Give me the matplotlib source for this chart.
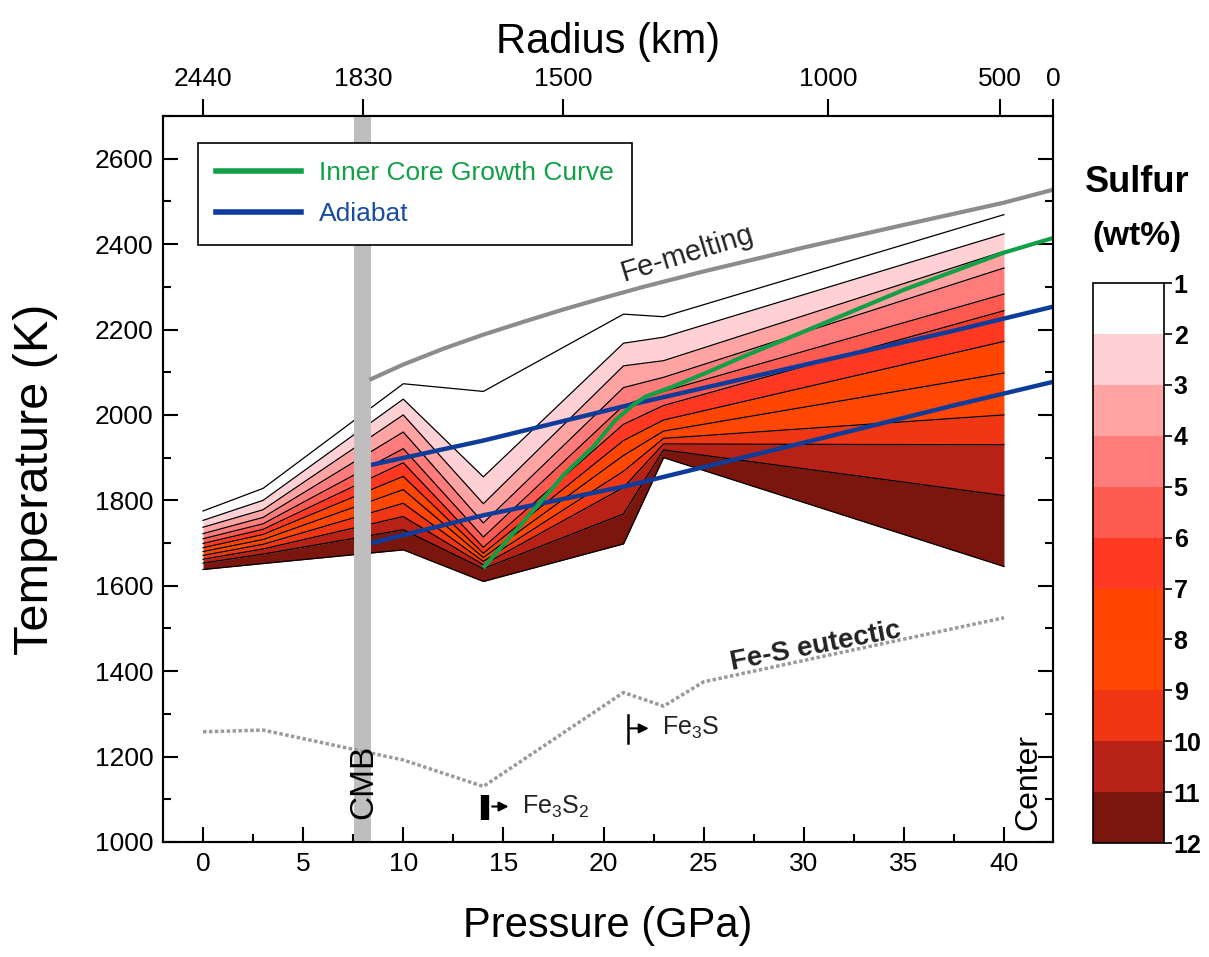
import numpy as np
import matplotlib
matplotlib.use('Agg')
import matplotlib.pyplot as plt
from matplotlib.colors import ListedColormap, BoundaryNorm
from matplotlib.cm import ScalarMappable
from matplotlib.lines import Line2D
from matplotlib.ticker import MultipleLocator

plt.rcParams['font.family'] = ['Liberation Sans', 'DejaVu Sans']
plt.rcParams['mathtext.fontset'] = 'custom'
plt.rcParams['mathtext.rm'] = 'Liberation Sans'

# pressures (GPa) where the liquidus curves have their vertices
pressure_nodes = [0, 3, 10, 14, 21, 23, 40]

# sulfur content (wt%) of each curve, top curve = 1 wt%
sulfur_levels = [1, 2, 3, 4, 5, 6, 7, 8, 9, 10, 11, 12]

# liquidus temperature (K) for each sulfur level at the pressure nodes
liquidus_T = [
    [1775, 1828, 2073, 2055, 2236, 2230, 2469],
    [1753, 1800, 2037, 1855, 2168, 2182, 2424],
    [1737, 1778, 2000, 1792, 2115, 2127, 2383],
    [1722, 1760, 1960, 1747, 2064, 2088, 2344],
    [1710, 1745, 1921, 1714, 2022, 2055, 2283],
    [1699, 1732, 1888, 1690, 1978, 2022, 2244],
    [1689, 1720, 1856, 1676, 1940, 1988, 2172],
    [1680, 1708, 1825, 1666, 1905, 1962, 2098],
    [1671, 1697, 1793, 1657, 1868, 1945, 2000],
    [1662, 1686, 1762, 1649, 1830, 1932, 1930],
    [1653, 1674, 1731, 1640, 1768, 1918, 1811],
    [1638, 1652, 1684, 1610, 1698, 1900, 1645],
]

# colour of the band between sulfur level k and k+1
band_colors = ['#FFFFFF', '#FFD1D4', '#FFA3A3', '#FF7C7C', '#FF5A50', '#FF3822',
               '#FF4500', '#FF4602', '#F03612', '#B82216', '#7A160D']

# pure Fe melting curve
fe_melt_P = [8.4, 10, 12, 14, 16, 18, 20, 22, 25, 30, 35, 40, 42.5]
fe_melt_T = [2084, 2118, 2155, 2188, 2218, 2247, 2274, 2300, 2336, 2392, 2445, 2497, 2528]

# Fe-S eutectic
eut_P = [0, 3, 10, 14, 21, 23, 25, 40]
eut_T = [1258, 1262, 1192, 1130, 1350, 1318, 1375, 1525]

# inner core growth curve
icg_P = [14.05, 15.5, 16.8, 18.1, 19.5, 20.6, 21.5, 22.1, 23.5, 25.1, 26.8, 30, 35, 40, 42.5]
icg_T = [1645, 1723, 1793, 1864, 1926, 1988, 2024, 2043, 2067, 2098, 2133, 2195, 2293, 2380, 2415]

# adiabats
ad_P = [8.4, 14, 21, 30, 37.3, 42.5]
ad_hi_T = [1883, 1940, 2020, 2117, 2195, 2254]
ad_lo_T = [1700, 1765, 1832, 1935, 2020, 2078]

# radius axis (top)
radius_km = [2440, 1830, 1500, 1000, 500, 0]
radius_at_P = [0, 8, 18, 31.2, 39.8, 42.45]

green = '#11A047'
blue = '#0E3C9A'

fig = plt.figure(figsize=(12.09, 9.57), dpi=100)
ax = fig.add_axes([0.1348, 0.1202, 0.7362, 0.7586])

# sulfur bands
for k in range(len(band_colors)):
    ax.fill_between(pressure_nodes, liquidus_T[k + 1], liquidus_T[k],
                    color=band_colors[k], lw=0, zorder=1)
for row in liquidus_T:
    ax.plot(pressure_nodes, row, color='k', lw=0.9, zorder=2)

# core-mantle boundary
ax.axvspan(7.55, 8.4, color='#BEBEBE', lw=0, zorder=3)

ax.plot(eut_P, eut_T, color='#9A9A9A', lw=2.5, ls=(0, (1, 0.7)),
        dash_capstyle='butt', zorder=4)
ax.plot(fe_melt_P, fe_melt_T, color='#8C8C8C', lw=3, zorder=5)
ax.plot(ad_P, ad_hi_T, color=blue, lw=3.2, solid_capstyle='butt', zorder=6)
ax.plot(ad_P, ad_lo_T, color=blue, lw=3.2, solid_capstyle='butt', zorder=6)
ax.plot(icg_P, icg_T, color=green, lw=3, zorder=7)

# annotations
ax.text(24.2, 2378, 'Fe-melting', fontsize=21, rotation=17, color='#222222',
        ha='center', va='center')
ax.text(30.6, 1457, 'Fe-S eutectic', fontsize=20, weight='bold', rotation=11,
        ha='center', va='center', color='#222222')
ax.text(8.05, 1140, 'CMB', fontsize=24, rotation=90, ha='center', va='center', zorder=8)
ax.text(41.2, 1140, 'Center', fontsize=23, rotation=90, ha='center', va='center')

ax.plot([21.2, 21.2], [1232, 1298], color='k', lw=1.8, zorder=8)
ax.annotate('', xy=(22.4, 1266), xytext=(21.2, 1266),
            arrowprops=dict(arrowstyle='-|>', color='k', lw=1.5, mutation_scale=14))
ax.text(22.9, 1266, 'Fe$_3$S', fontsize=18, ha='left', va='center', color='#222222')

ax.plot([14.1, 14.1], [1051, 1110], color='k', lw=6, solid_capstyle='butt', zorder=8)
ax.annotate('', xy=(15.4, 1083), xytext=(14.3, 1083),
            arrowprops=dict(arrowstyle='-|>', color='k', lw=1.5, mutation_scale=14))
ax.text(15.95, 1083, 'Fe$_3$S$_2$', fontsize=18, ha='left', va='center', color='#222222')

# legend
handles = [Line2D([], [], color=green, lw=4), Line2D([], [], color=blue, lw=4)]
leg = ax.legend(handles, ['Inner Core Growth Curve', 'Adiabat'], loc='upper left',
                bbox_to_anchor=(0.039, 0.963), borderaxespad=0, fontsize=19,
                handlelength=3.2, handletextpad=0.7, labelspacing=0.65,
                borderpad=0.7, fancybox=False, framealpha=1)
leg.get_frame().set_edgecolor('k')
leg.get_frame().set_linewidth(1.2)
for txt, c in zip(leg.get_texts(), [green, '#1B4CA0']):
    txt.set_color(c)

# axes
ax.set_xlim(-2, 42.45)
ax.set_ylim(1000, 2700)
ax.set_xticks(range(0, 41, 5))
ax.xaxis.set_minor_locator(MultipleLocator(2.5))
ax.yaxis.set_major_locator(MultipleLocator(200))
ax.yaxis.set_minor_locator(MultipleLocator(100))
ax.tick_params(which='both', direction='in', top=False, right=True, width=1.5,
               labelsize=19)
ax.tick_params(which='major', length=11, pad=7)
ax.tick_params(which='minor', length=6)
for s in ax.spines.values():
    s.set_linewidth(1.5)
ax.set_xlabel('Pressure (GPa)', fontsize=30, labelpad=22)
ax.set_ylabel('Temperature (K)', fontsize=35, labelpad=26)

axt = ax.twiny()
axt.set_xlim(ax.get_xlim())
axt.set_xticks(radius_at_P)
axt.set_xticklabels([str(r) for r in radius_km])
axt.tick_params(direction='out', length=12, width=1.5, labelsize=19, pad=6)
axt.set_xlabel('Radius (km)', fontsize=30, labelpad=10)
for s in axt.spines.values():
    s.set_linewidth(1.5)

# colour bar
cax = fig.add_axes([0.9040, 0.1191, 0.0587, 0.585])
cmap = ListedColormap(band_colors)
norm = BoundaryNorm(sulfur_levels, cmap.N)
cb = fig.colorbar(ScalarMappable(norm=norm, cmap=cmap), cax=cax, ticks=sulfur_levels,
                  drawedges=True)
cax.invert_yaxis()
cb.minorticks_off()
cb.outline.set_linewidth(1.2)
cb.dividers.set_linewidth(1.2)
cb.dividers.set_color('k')
cax.tick_params(length=6, width=1.2, labelsize=18, pad=1)
for t in cax.get_yticklabels():
    t.set_fontweight('bold')
fig.text(1137 / 1209, 1 - 183 / 957, 'Sulfur', ha='center', va='center',
         fontsize=26, weight='bold')
fig.text(1137 / 1209, 1 - 237 / 957, '(wt%)', ha='center', va='center',
         fontsize=24, weight='bold')

fig.savefig('out.png', dpi=100)
